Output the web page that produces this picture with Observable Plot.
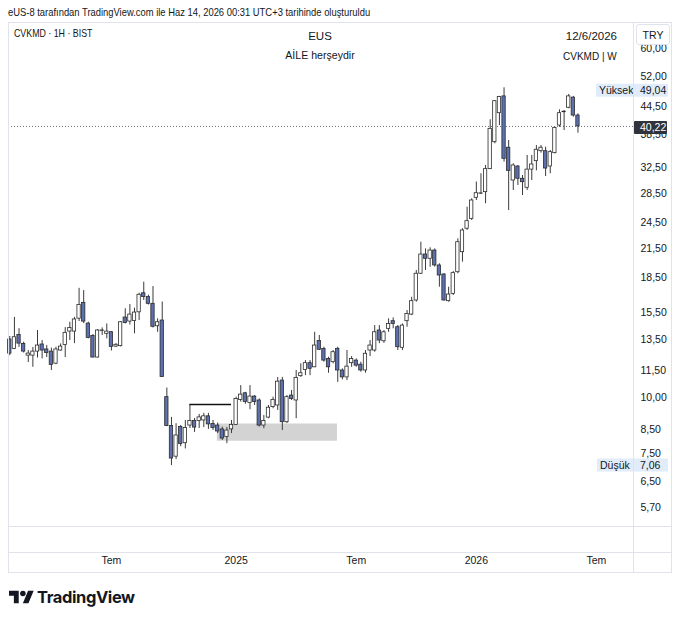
<!DOCTYPE html>
<html><head><meta charset="utf-8">
<script src="https://cdn.jsdelivr.net/npm/d3@7"></script>
<script src="https://cdn.jsdelivr.net/npm/@observablehq/plot@0.6"></script>
<style>
body{margin:0;background:#fff;color:#131722;font-family:"Liberation Sans",Arial,sans-serif;}
#wrap{position:relative;width:680px;height:621px;overflow:hidden;background:#fff;}
.t{position:absolute;white-space:nowrap;line-height:1;font-size:11px;}
.sx{transform-origin:0 50%;}
.ln{position:absolute;background:#e0e3eb;}
#chart{position:absolute;left:0;top:22px;}
</style></head><body>
<div id="wrap">
  <div class="t sx" style="left:8px;top:7px;font-size:10.5px;transform:scaleX(0.895)">eUS-8 tarafından TradingView.com ile Haz 14, 2026 00:31 UTC+3 tarihinde oluşturuldu</div>
  <div id="chart"></div>
  <div class="ln" style="left:8px;top:22px;width:664px;height:1px"></div>
  <div class="ln" style="left:8px;top:572px;width:664px;height:1px"></div>
  <div class="ln" style="left:8px;top:22px;width:1px;height:551px"></div>
  <div class="ln" style="left:671px;top:22px;width:1px;height:551px"></div>
  <div class="ln" style="left:633px;top:22px;width:1px;height:551px"></div>
  <div class="ln" style="left:8px;top:526px;width:664px;height:1px"></div>
  <div class="ln" style="left:8px;top:552px;width:664px;height:1px"></div>
  <div class="t sx" style="left:14px;top:28px;font-size:10.5px;transform:scaleX(0.84)">CVKMD · 1H · BIST</div>
  <div class="t" style="left:270px;width:100px;text-align:center;top:31px;font-size:11.5px">EUS</div>
  <div class="t" style="left:250px;width:140px;text-align:center;top:50px;font-size:11.5px;transform:scaleX(0.92)">AİLE herşeydir</div>
  <div class="t" style="right:63px;top:31px;font-size:11.5px">12/6/2026</div>
  <div class="t" style="right:63px;top:51px;font-size:11.5px;transform:scaleX(0.87);transform-origin:100% 50%">CVKMD | W</div>
  <div style="position:absolute;left:636px;top:24px;width:32px;height:19px;border:1px solid #e0e3eb;border-radius:3px;background:#fff;"></div>
  <div class="t" style="left:636px;width:34px;text-align:center;top:30px;font-size:10.5px">TRY</div>
  <svg style="position:absolute;left:9px;top:588px" width="25" height="19.5" viewBox="0 0 36 28">
    <path d="M14 22H7V11H0V4h14v18z" fill="#131722"/>
    <circle cx="20" cy="8" r="4" fill="#131722"/>
    <path d="M28 22h-8l7.5-18h8L28 22z" fill="#131722"/>
  </svg>
  <div class="t" style="left:37px;top:589px;font-family:Inter,'Open Sans',sans-serif;font-weight:700;font-size:16.5px;letter-spacing:-0.4px">TradingView</div>
</div>
<script>
// ---- data (weekly candles, CVKMD, TRY) ----
const firstWeek = "2024-01-29";
const open = [
13.48, 12.85, 13.8, 13.18, 12.41, 12.41, 12.67, 13.14, 12.81, 12.67,
11.91, 12.74, 13.1, 14.04, 14.04, 15.0, 16.27, 14.63, 13.73, 12.29,
14.08, 13.88, 14.0, 13.0, 13.03, 15.09, 14.78, 14.82, 15.5, 17.09,
16.76, 16.19, 14.43, 14.86, 10.03, 8.65, 7.39, 8.61, 7.92, 8.67,
8.88, 8.88, 8.9, 9.09, 8.74, 8.67, 8.5, 8.18, 8.5, 8.7,
9.89, 10.23, 9.73, 10.06, 9.86, 8.67, 9.03, 9.53, 9.61, 10.92,
8.82, 10.11, 9.86, 11.17, 11.53, 11.94, 11.69, 13.38, 12.84, 12.2,
12.0, 12.85, 11.5, 11.1, 11.94, 12.1, 11.85, 11.5, 12.74, 12.74,
14.12, 13.36, 14.24, 14.81, 14.36, 12.92, 14.81, 15.32, 16.47, 18.89,
20.85, 20.4, 21.28, 19.71, 18.82, 16.41, 17.04, 19.04, 21.1, 23.8,
25.04, 27.89, 28.48, 28.71, 32.31, 37.1, 43.05, 46.93, 36.06, 30.48,
32.75, 30.75, 29.36, 32.23, 33.66, 35.43, 35.43, 32.75, 35.07, 40.41,
43.27, 44.27, 46.63, 42.54];
const high = [
13.69, 15.1, 14.25, 13.3, 12.74, 12.94, 14.12, 13.41, 13.07, 12.9,
12.96, 13.18, 14.33, 14.73, 15.1, 17.53, 17.33, 14.73, 13.83, 14.19,
14.31, 14.6, 14.04, 13.2, 14.78, 15.78, 16.13, 15.83, 17.1, 18.09,
16.93, 17.69, 14.99, 16.34, 10.51, 9.04, 8.75, 8.67, 8.9, 9.66,
8.99, 9.18, 9.23, 9.23, 8.9, 8.78, 8.6, 8.58, 8.9, 10.03,
10.64, 10.28, 10.64, 10.11, 9.94, 9.13, 9.61, 10.03, 11.09, 11.1,
10.11, 10.38, 11.5, 11.9, 12.1, 12.1, 13.99, 13.76, 12.96, 12.31,
12.74, 12.96, 11.6, 12.74, 12.35, 12.2, 12.0, 12.74, 13.41, 14.48,
14.48, 14.12, 14.99, 15.06, 14.48, 14.6, 15.64, 16.74, 19.21, 22.21,
21.46, 21.58, 21.46, 19.88, 18.89, 17.63, 19.11, 22.6, 23.8, 26.58,
27.75, 30.25, 31.55, 32.92, 41.62, 45.95, 46.93, 49.04, 37.43, 33.21,
32.92, 31.27, 34.66, 34.66, 36.48, 36.48, 36.17, 35.56, 40.05, 43.8,
43.65, 47.4, 46.93, 42.91];
const low = [
12.41, 12.8, 12.95, 12.58, 11.98, 11.69, 12.26, 12.2, 12.29, 11.5,
11.85, 12.7, 12.29, 13.41, 13.2, 14.78, 14.63, 13.53, 12.26, 12.26,
13.76, 13.53, 12.71, 12.94, 12.98, 14.6, 14.52, 13.88, 14.86, 16.47,
16.09, 14.3, 13.99, 11.1, 8.62, 7.06, 7.28, 7.78, 7.69, 8.54,
8.37, 8.54, 8.58, 8.5, 8.45, 8.32, 8.03, 7.9, 8.32, 8.67,
9.78, 9.67, 9.4, 9.61, 8.6, 8.53, 8.98, 9.45, 9.37, 8.45,
8.76, 9.86, 8.98, 11.1, 11.2, 11.2, 11.67, 12.74, 12.0, 11.34,
11.9, 10.82, 10.96, 10.92, 11.69, 11.69, 11.4, 11.34, 12.35, 12.63,
13.2, 13.22, 13.99, 14.24, 12.74, 12.74, 14.36, 15.24, 16.33, 18.82,
19.21, 19.54, 19.54, 17.63, 16.41, 16.33, 16.89, 18.89, 20.05, 23.59,
24.83, 27.51, 28.37, 27.05, 32.23, 36.8, 40.41, 33.5, 26.13, 28.96,
29.71, 28.22, 28.96, 30.48, 32.03, 35.07, 31.11, 31.55, 34.95, 40.05,
39.39, 44.04, 42.17, 38.86];
const close = [
12.54, 13.64, 13.2, 12.67, 12.54, 12.67, 13.07, 12.74, 12.58, 11.83,
12.81, 13.0, 13.95, 14.3, 14.94, 16.1, 14.78, 13.59, 12.29, 14.12,
14.12, 14.04, 12.98, 13.12, 14.73, 14.67, 15.32, 15.48, 16.96, 16.76,
16.19, 14.39, 14.73, 11.12, 8.65, 7.32, 8.24, 7.89, 8.56, 8.88,
8.58, 9.04, 9.09, 8.72, 8.56, 8.41, 8.11, 8.45, 8.7, 9.94,
10.16, 9.78, 10.06, 9.78, 8.67, 8.87, 9.5, 9.89, 10.86, 8.82,
10.03, 9.94, 11.07, 11.34, 11.94, 11.6, 13.07, 12.79, 12.1, 11.69,
12.63, 11.5, 11.1, 11.73, 12.2, 11.79, 11.5, 12.53, 13.07, 13.99,
13.41, 13.99, 14.6, 14.6, 12.96, 14.48, 15.37, 16.41, 18.89, 20.85,
20.4, 21.28, 19.71, 18.72, 16.47, 16.98, 18.95, 22.21, 23.59, 24.74,
27.51, 28.56, 28.53, 32.31, 39.73, 45.79, 46.77, 34.07, 32.03, 32.92,
30.75, 30.22, 32.23, 33.09, 35.69, 36.06, 32.41, 35.25, 39.93, 43.05,
43.38, 46.93, 42.54, 40.22];

const priceTicks = [60, 52, 44.5, 38.5, 32.5, 28.5, 24.5, 21.5, 18.5, 15.5, 13.5, 11.5, 10, 8.5, 7.5, 6.5, 5.7];
const timeLabels = ["Tem", "2025", "Tem", "2026", "Tem"];
const timeLabelWeeks = ["2024-07-01", "2025-01-06", "2025-07-07", "2026-01-05", "2026-07-06"];
const lastClose = 40.22;
const highest = 49.04, lowest = 7.06;
const zoneStart = "2024-12-12", zoneEnd = "2025-06-12", zoneLow = 8.0, zoneHigh = 8.74;
const levelStart = "2024-10-28", levelEnd = "2024-12-30", levelPrice = 9.66;

// ---- build ----
const FONT = '"Liberation Sans","DejaVu Sans",sans-serif';
const mid = d => d3.utcHour.offset(d, 84);
const start = new Date(firstWeek);
const data = open.map((o, i) => ({
  date: d3.utcMonday.offset(start, i), open: o, high: high[i], low: low[i], close: close[i]
}));
const labels = timeLabels.map((l, i) => ({date: mid(new Date(timeLabelWeeks[i])), label: l, year: /\d/.test(l)}));
const zone = [{x1: new Date(zoneStart), x2: new Date(zoneEnd), y1: zoneLow, y2: zoneHigh}];
const level = [{x1: mid(new Date(levelStart)), x2: mid(new Date(levelEnd)), y: levelPrice}];
const fmt = v => v.toFixed(2).replace(".", ",");

const plot = Plot.plot({
  width: 680, height: 553,
  marginLeft: 8, marginRight: 47, marginTop: 0, marginBottom: 49,
  style: {background: "transparent", fontFamily: FONT, fontSize: "10.5px", color: "#131722", overflow: "visible"},
  x: {type: "utc", domain: [new Date("2024-01-30T13:00Z"), new Date("2026-09-03T16:00Z")], axis: null},
  y: {type: "log", domain: [5.165, 68.56], axis: null},
  color: {type: "identity"},
  marks: [
    Plot.rect(zone, {x1: "x1", x2: "x2", y1: "y1", y2: "y2", fill: "#d3d3d3"}),
    Plot.ruleY([lastClose], {stroke: "#6a6d78", strokeDasharray: "1,2", strokeWidth: 1}),
    Plot.ruleX(data, {x: d => mid(d.date), y1: "low", y2: "high", stroke: "#3b3b3b", strokeWidth: 1}),
    Plot.rect(data, {
      x1: "date", x2: d => d3.utcDay.offset(d.date, 7), y1: "open", y2: "close",
      insetLeft: 0.65, insetRight: 0.65,
      fill: d => d.close >= d.open ? "#ffffff" : "#5c70b0",
      stroke: "#2b2b2b", strokeWidth: 0.8
    }),
    Plot.ruleY(level, {x1: "x1", x2: "x2", y: "y", stroke: "#111", strokeWidth: 1.6}),
    Plot.text(priceTicks, {y: d => d, frameAnchor: "right", dx: 7, textAnchor: "start", text: fmt, fill: "#131722"}),
    Plot.text(labels, {x: "date", frameAnchor: "bottom", dy: 37, text: "label", fill: "#131722",
      fontWeight: d => d.year ? 600 : 400})
  ]
});
document.getElementById("chart").appendChild(plot);

// price-axis badges placed with the plot's own y scale
const ys = v => plot.scale("y").apply(v);
const svg = d3.select(plot);
function badge(xl, xr, yc, bg, parts, fg) {
  svg.append("rect").attr("x", xl).attr("y", yc - 6.5).attr("width", xr - xl).attr("height", 13)
    .attr("fill", bg).attr("rx", 1);
  for (const [x, s] of parts) {
    svg.append("text").attr("x", x).attr("y", yc).attr("dy", "0.35em").attr("text-anchor", "start")
      .attr("font-family", FONT).attr("font-size", "10.5px").attr("fill", fg).text(s);
  }
}
badge(596, 668, ys(highest) + 3, "#e1ecfb", [[599, "Yüksek"], [640, fmt(highest)]], "#131722");
badge(597, 668, ys(lowest), "#e1ecfb", [[600, "Düşük"], [640, fmt(lowest)]], "#131722");
badge(634, 667, ys(lastClose) + 1.5, "#2f333e", [[640, fmt(lastClose)]], "#ffffff");
</script>
</body></html>
